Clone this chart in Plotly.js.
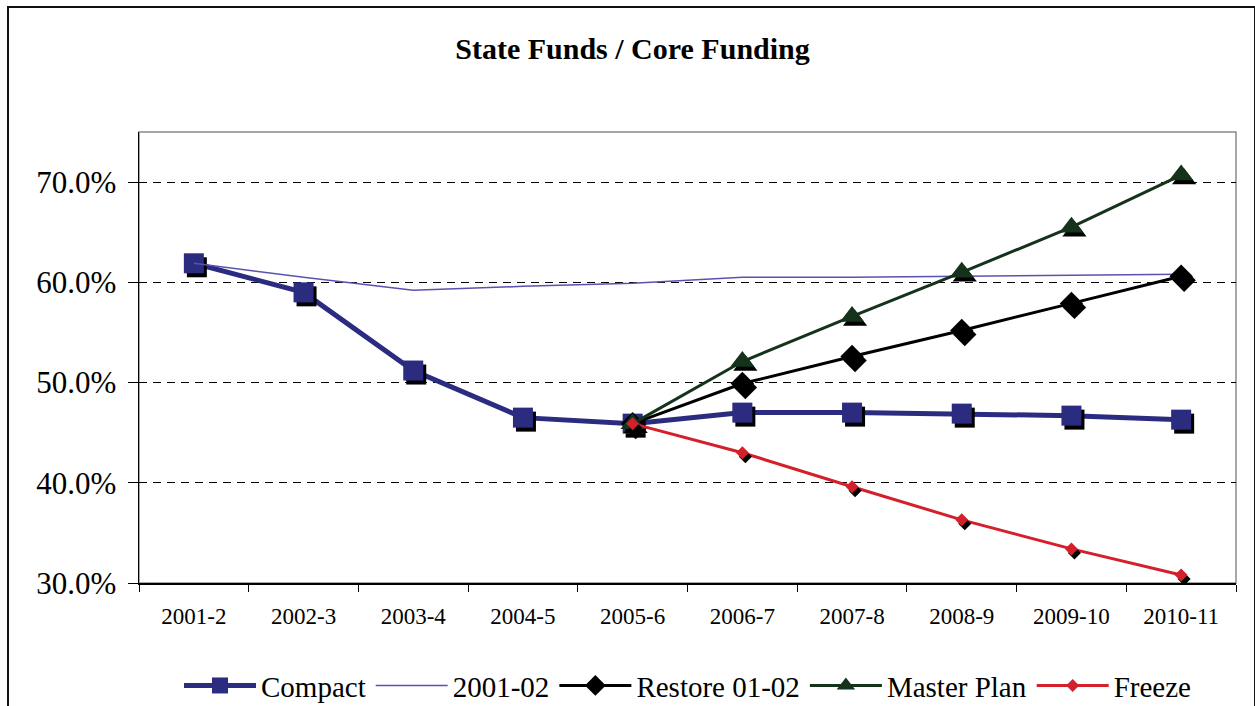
<!DOCTYPE html>
<html>
<head>
<meta charset="utf-8">
<script src="https://cdn.plot.ly/plotly-3.0.1.min.js"></script>
<style>
  body { margin: 0; overflow: hidden; background: #fff; }
  #chart { width: 1255px; height: 706px; }
  #frame { position: absolute; left: 7px; top: 6px; width: 1245px; height: 800px;
           border: 2px solid #111; pointer-events: none; }
  /* excel style drop shadow on the markers only (not legend) */
  .cartesianlayer .scatterlayer .points path { filter: drop-shadow(3px 4px 0 #000); }
</style>
</head>
<body>
<div id="chart"></div>
<div id="frame"></div>
<script>
// fiscal years on the x axis
var years = ['2001-2', '2002-3', '2003-4', '2004-5', '2005-6', '2006-7', '2007-8', '2008-9', '2009-10', '2010-11'];

// state funds as share of core funding
var compact    = [0.619, 0.590, 0.512, 0.465, 0.459, 0.470, 0.470, 0.469, 0.467, 0.463];
var base0102   = [0.619, 0.605, 0.592, 0.596, 0.599, 0.605, 0.605, 0.606, 0.607, 0.608];
var restore    = [null, null, null, null, 0.459, 0.499, 0.526, 0.552, 0.579, 0.606];
var masterPlan = [null, null, null, null, 0.459, 0.521, 0.566, 0.610, 0.655, 0.707];
var freeze     = [null, null, null, null, 0.459, 0.430, 0.396, 0.363, 0.334, 0.308];

var serif = '"Liberation Serif", "Times New Roman", Times, serif';

var traceCompact = {
  type: 'scatter', mode: 'lines+markers', name: 'Compact',
  x: years, y: compact,
  line: {color: '#2b2b80', width: 5},
  marker: {symbol: 'square', size: 20, color: '#2b2b80'}
};
var trace0102 = {
  type: 'scatter', mode: 'lines', name: '2001-02',
  x: years, y: base0102,
  line: {color: '#5a52b0', width: 1.5}
};
var traceRestore = {
  type: 'scatter', mode: 'lines+markers', name: 'Restore 01-02',
  x: years, y: restore,
  line: {color: '#000000', width: 3},
  marker: {symbol: 'diamond', size: 18, color: '#000000'}
};
var traceMaster = {
  type: 'scatter', mode: 'lines+markers', name: 'Master Plan',
  x: years, y: masterPlan,
  line: {color: '#15321a', width: 3},
  marker: {symbol: 'triangle-up', size: 21, color: '#15321a'}
};
var traceFreeze = {
  type: 'scatter', mode: 'lines+markers', name: 'Freeze',
  x: years, y: freeze,
  line: {color: '#d4202a', width: 3},
  marker: {symbol: 'diamond', size: 10, color: '#d4202a'}
};

var data = [traceCompact, trace0102, traceRestore, traceMaster, traceFreeze];

var layout = {
  width: 1255,
  height: 706,
  margin: {l: 139, r: 19, t: 132, b: 123, autoexpand: false},
  paper_bgcolor: 'rgba(0,0,0,0)',
  plot_bgcolor: '#ffffff',
  font: {family: serif, color: '#000'},
  title: {
    text: '<b>State Funds / Core Funding</b>',
    font: {family: serif, size: 30, color: '#000'},
    x: 0.504, xref: 'container', xanchor: 'center',
    y: 0.932, yref: 'container', yanchor: 'middle'
  },
  xaxis: {
    type: 'category',
    range: [-0.5, 9.5],
    tickson: 'boundaries',
    ticks: 'outside', ticklen: 7, tickcolor: '#000', tickwidth: 1,
    ticklabelstandoff: 12,
    showline: true, linecolor: '#000', linewidth: 1.5,
    showgrid: false,
    tickfont: {family: serif, size: 23, color: '#000'}
  },
  yaxis: {
    range: [0.30, 0.75],
    tickvals: [0.30, 0.40, 0.50, 0.60, 0.70],
    tickformat: '.1%',
    ticks: 'outside', ticklen: 10, tickcolor: '#000', tickwidth: 1,
    ticklabelstandoff: 5,
    showline: true, linecolor: '#000', linewidth: 1.5,
    showgrid: true, gridcolor: '#000', gridwidth: 1, griddash: '8px,6px',
    zeroline: false,
    tickfont: {family: serif, size: 31, color: '#000'}
  },
  shapes: [{
    type: 'rect', xref: 'paper', yref: 'paper', x0: 0, x1: 1, y0: 0, y1: 1,
    line: {color: '#8a8a8a', width: 1.5}, layer: 'below'
  }],
  showlegend: true,
  legend: {
    orientation: 'h',
    x: 0.5, xanchor: 'center',
    y: -0.171, yanchor: 'top',
    itemwidth: 72,
    traceorder: 'normal',
    font: {family: serif, size: 29, color: '#000'},
    bgcolor: 'rgba(0,0,0,0)'
  },
  hovermode: false
};

Plotly.newPlot('chart', data, layout, {displayModeBar: false, staticPlot: true});
</script>
</body>
</html>
